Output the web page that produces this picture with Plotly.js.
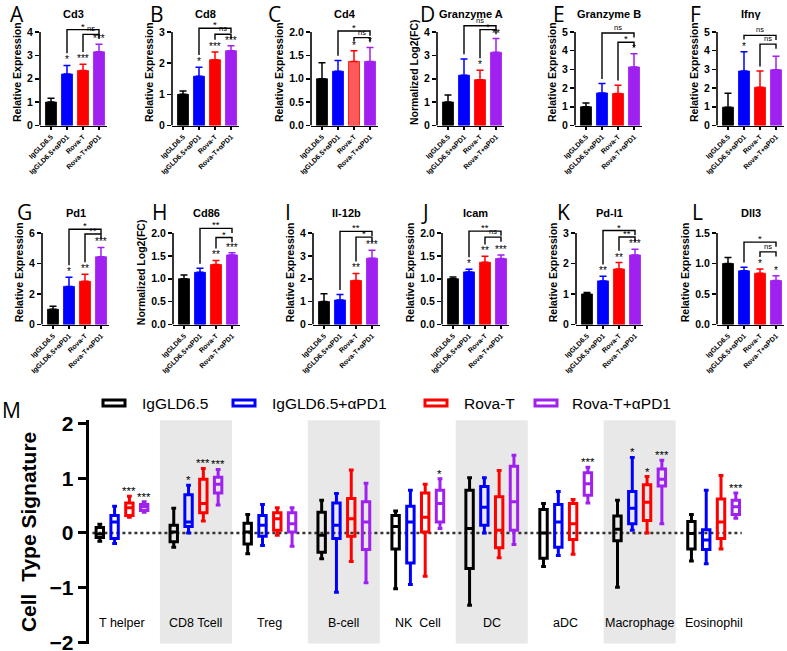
<!DOCTYPE html>
<html><head><meta charset="utf-8">
<script src="https://cdn.plot.ly/plotly-3.0.1.min.js"></script>
<style>body{margin:0;padding:0;background:#fff}#chart{width:787px;height:651px}</style>
</head><body><div id="chart"></div>
<script>
// ---------------- DATA ----------------
const groups = ['IgGLD6.5', 'IgGLD6.5+αPD1', 'Rova-T', 'Rova-T+αPD1'];
const panelLetters = ['A','B','C','D','E','F','G','H','I','J','K','L'];
const genes = ['Cd3','Cd8','Cd4','Granzyme A','Granzyme B','Ifnγ','Pd1','Cd86','Il-12b','Icam','Pd-l1','Dll3'];
const yTitles = ['Relative Expression','Relative Expression','Relative Expression','Normalized Log2(FC)',
  'Relative Expression','Relative Expression','Relative Expression','Normalized Log2(FC)',
  'Relative Expression','Relative Expression','Relative Expression','Relative Expression'];
const yMax  = [4, 3, 2, 4, 5, 5, 6, 2, 4, 2, 3, 1.5];
const yStep = [1, 1, 0.5, 1, 1, 1, 2, 0.5, 1, 0.5, 1, 0.5];
const means = [
  [1.00, 2.20, 2.35, 3.15],
  [1.00, 1.58, 2.11, 2.40],
  [1.00, 1.16, 1.37, 1.37],
  [1.00, 2.15, 1.96, 3.13],
  [1.00, 1.74, 1.71, 3.13],
  [0.98, 2.91, 2.04, 2.98],
  [1.00, 2.50, 2.83, 4.44],
  [1.00, 1.14, 1.31, 1.52],
  [1.00, 1.07, 1.92, 2.90],
  [1.00, 1.15, 1.36, 1.44],
  [1.00, 1.43, 1.82, 2.28],
  [1.00, 0.88, 0.84, 0.72]
];
const errs = [
  [0.17, 0.37, 0.27, 0.33],
  [0.11, 0.29, 0.25, 0.16],
  [0.34, 0.23, 0.23, 0.30],
  [0.30, 0.70, 0.40, 0.59],
  [0.20, 0.50, 0.44, 0.71],
  [0.74, 1.04, 0.87, 0.72],
  [0.20, 0.60, 0.47, 0.61],
  [0.08, 0.09, 0.09, 0.05],
  [0.34, 0.24, 0.31, 0.35],
  [0.04, 0.06, 0.13, 0.08],
  [0.05, 0.15, 0.21, 0.19],
  [0.10, 0.06, 0.07, 0.08]
];
const stars = [
  ['','*','***','***'], ['','*','***','***'], ['','','*','*'], ['','','*','**'],
  ['','','','*'], ['','*','',''], ['','*','**','***'], ['','','**','***'],
  ['','','**','***'], ['','*','**','***'], ['','**','**','***'], ['','','*','*']
];
// brackets: [blue vs purple, red vs purple]
const bracketLabels = [
  ['*','ns'], ['*','ns'], ['*','ns'], ['ns','*'], ['ns','*'], ['ns','ns'],
  ['*','**'], ['**','*'], ['**','*'], ['**','ns'], ['*','**'], ['*','ns']
];
const bracketLevels = [
  [4.10, 3.90], [3.12, 2.93], [2.02, 1.88], [4.27, 4.10], [4.95, 4.45], [4.82, 4.35],
  [6.25, 5.93], [2.10, 1.90], [4.07, 3.82], [2.04, 1.91], [3.08, 2.87], [1.35, 1.19]
];

// Cell type signature box plot (panel M)
const cellTypes = ['T helper','CD8 Tcell','Treg','B-cell','NK  Cell','DC','aDC','Macrophage','Eosinophil'];
const boxUpper  = [
  [0.16, 0.45, 0.34, 0.60, 0.40, 1.01, 0.54, 0.60, 0.34],
  [0.49, 0.87, 0.52, 0.72, 0.78, 1.01, 0.76, 1.38, 0.78],
  [0.67, 1.18, 0.46, 1.15, 0.89, 1.14, 0.61, 1.03, 1.05],
  [0.57, 1.16, 0.46, 0.91, 0.99, 1.42, 1.20, 1.33, 0.73]
];
const boxQ3 = [
  [0.10, 0.14, 0.18, 0.38, 0.32, 0.78, 0.43, 0.31, 0.21],
  [0.32, 0.70, 0.32, 0.55, 0.49, 0.85, 0.52, 0.76, 0.06],
  [0.55, 0.98, 0.37, 0.63, 0.73, 0.66, 0.54, 0.88, 0.62],
  [0.52, 1.02, 0.37, 0.57, 0.78, 1.22, 1.10, 1.17, 0.60]
];
const boxMedian = [
  [-0.02, 0.02, 0.02, -0.04, 0.12, 0.08, 0.00, 0.07, -0.01],
  [0.20, 0.20, 0.14, 0.14, 0.20, 0.47, 0.20, 0.45, -0.13],
  [0.46, 0.54, 0.26, 0.26, 0.29, 0.05, 0.17, 0.56, 0.20],
  [0.48, 0.89, 0.17, 0.20, 0.54, 0.57, 0.90, 0.98, 0.48]
];
const boxQ1 = [
  [-0.08, -0.16, -0.20, -0.35, -0.29, -0.65, -0.46, -0.14, -0.29],
  [-0.10, 0.12, -0.06, -0.10, -0.55, 0.14, -0.26, 0.17, -0.30],
  [0.32, 0.37, 0.05, -0.06, 0.02, -0.27, -0.12, 0.23, -0.10],
  [0.41, 0.73, 0.02, -0.30, 0.20, 0.05, 0.69, 0.86, 0.34]
];
const boxLower = [
  [-0.15, -0.26, -0.38, -0.47, -1.02, -1.32, -0.61, -0.99, -0.51],
  [-0.19, 0.00, -0.23, -1.08, -0.94, 0.00, -0.41, 0.05, -0.56],
  [0.29, 0.22, -0.04, -0.52, -0.79, -0.45, -0.39, 0.00, -0.29],
  [0.38, 0.51, -0.24, -0.91, 0.08, -0.21, 0.55, 0.17, 0.27]
];
const boxStars = [
  ['','','','','','','','',''],
  ['','*','','','','','','*',''],
  ['***','***','','','','','','*',''],
  ['***','***','','','*','','***','***','***']
];

// ---------------- STYLE / LAYOUT CONSTANTS ----------------
const groupColors = ['#000000', '#0000ff', '#ff0000', '#a020f0'];
const W = 787, H = 651;
const FONT = 'Liberation Sans, Arial, sans-serif';
const rowZeroPx = [125.5, 324.5];
const rowTopPx = [32, 233];
const rowTitlePx = [14, 213];
const rowLetterPx = [14, 212];
const axisLeftPx = [40, 172, 311, 437, 575, 717, 42, 173, 313, 442, 576, 717];
const letterLeftPx = [8, 148, 266, 418, 551, 688, 15, 150, 283, 419, 555, 690];
const barPitchPx = 16, firstBarPx = 11, axisLenPx = 67, barWidthFrac = 0.69;
const headroom = 1.14;

const layout = {
  width: W, height: H, margin: {l: 0, r: 0, t: 0, b: 0},
  paper_bgcolor: '#ffffff', plot_bgcolor: 'rgba(0,0,0,0)',
  showlegend: false, barmode: 'overlay', boxmode: 'group', boxgap: 0.2, boxgroupgap: 0.5,
  font: {family: FONT, color: '#000'},
  shapes: [], annotations: []
};
const traces = [];

function suffix(n) { return n === 1 ? '' : String(n); }

genes.forEach((gene, p) => {
  const n = p + 1, s = suffix(n);
  const row = p < 6 ? 0 : 1;
  const left = axisLeftPx[p];
  const zero = rowZeroPx[row], top = rowTopPx[row];
  const ymax = yMax[p];
  const topPx = zero - headroom * (zero - top);
  const tickvals = [];
  for (let v = 0; v <= ymax + 1e-9; v += yStep[p]) tickvals.push(+v.toFixed(2));

  layout['xaxis' + s] = {
    domain: [left / W, (left + axisLenPx) / W],
    range: [-firstBarPx / barPitchPx, (axisLenPx - firstBarPx) / barPitchPx],
    anchor: 'y' + s, showline: true, linecolor: '#000', linewidth: 1.6,
    ticks: 'outside', ticklen: 3, tickwidth: 1.2, tickcolor: '#000',
    tickmode: 'array', tickvals: [0, 1, 2, 3], ticktext: groups, tickangle: -45,
    tickfont: {size: 7, family: FONT, weight: 'bold'},
    showgrid: false, zeroline: false, fixedrange: true
  };
  layout['yaxis' + s] = {
    domain: [1 - zero / H, 1 - topPx / H],
    range: [0, headroom * ymax], anchor: 'x' + s,
    showline: false, ticks: 'outside', ticklen: 4, tickwidth: 1.5, tickcolor: '#000',
    tickmode: 'array', tickvals: tickvals, tickformat: yStep[p] < 1 ? '.1f' : 'd',
    tickfont: {size: 10.5, family: FONT, weight: 'bold'},
    showgrid: false, zeroline: false, fixedrange: true,
    title: {text: yTitles[p], font: {size: 10.5, family: FONT, weight: 'bold'}, standoff: 3}
  };
  // y axis line only up to ymax
  layout.shapes.push({type: 'line', xref: 'x' + s + ' domain', yref: 'y' + s,
    x0: 0, x1: 0, y0: 0, y1: ymax, line: {color: '#000', width: 1.6}});

  groups.forEach((g, i) => {
    let fill = groupColors[i];
    if (p === 2 && i === 2) fill = '#ff5a5a';
    traces.push({
      type: 'bar', x: [i], y: [means[p][i]], width: barWidthFrac,
      xaxis: 'x' + s, yaxis: 'y' + s, name: g, hoverinfo: 'skip',
      marker: {color: fill, line: {color: groupColors[i], width: 0.8}},
      error_y: {type: 'data', symmetric: false, array: [errs[p][i]], arrayminus: [0],
        color: groupColors[i], thickness: 1.5, width: 3.5}
    });
    if (stars[p][i]) {
      layout.annotations.push({xref: 'x' + s, yref: 'y' + s, x: i, y: means[p][i] + errs[p][i],
        text: stars[p][i], showarrow: false, yanchor: 'bottom', yshift: -2,
        font: {size: 10, family: FONT, color: '#000'}});
    }
  });

  // significance brackets
  [[1, 0], [2, 1]].forEach(([fromIdx, k]) => {
    const h = bracketLevels[p][k];
    const topFrom = means[p][fromIdx] + errs[p][fromIdx];
    let bottom = topFrom + (stars[p][fromIdx] ? 0.13 : 0.05) * ymax;
    bottom = Math.min(bottom, h - 0.04 * ymax);
    const drop = h - 0.05 * ymax;
    layout.shapes.push({type: 'path', xref: 'x' + s, yref: 'y' + s,
      path: `M ${fromIdx},${bottom} L ${fromIdx},${h} L 3,${h} L 3,${drop}`,
      line: {color: '#000', width: 1.4}});
    const lbl = bracketLabels[p][k];
    layout.annotations.push({xref: 'x' + s, yref: 'y' + s, x: (fromIdx + 3) / 2, y: h,
      text: lbl, showarrow: false, yanchor: 'bottom', yshift: lbl === 'ns' ? -1 : -4,
      font: {size: lbl === 'ns' ? 7.5 : 9.5, family: FONT, color: '#000'}});
  });

  // subplot title
  layout.annotations.push({xref: 'paper', yref: 'paper',
    x: (left + axisLenPx / 2) / W, y: 1 - rowTitlePx[row] / H,
    text: gene, showarrow: false, xanchor: 'center', yanchor: 'middle',
    font: {size: 11, family: FONT, weight: 'bold', color: '#000'}});
  // panel letter
  layout.annotations.push({xref: 'paper', yref: 'paper',
    x: letterLeftPx[p] / W, y: 1 - rowLetterPx[row] / H,
    text: panelLetters[p], showarrow: false, xanchor: 'left', yanchor: 'middle',
    font: {size: 21, family: 'Open Sans, sans-serif', color: '#000'}});
});

// ---------------- PANEL M: box plot ----------------
const bx = 'x13', by = 'y13';
const boxLeftPx = 88.7, boxRightPx = 758, boxZeroPx = 533, boxUnitPx = 54.75;
const bRange = [-2.02, 2.06];
layout.xaxis13 = {domain: [boxLeftPx / W, boxRightPx / W], range: [-0.45, 8.6], anchor: by,
  type: 'category', categoryarray: cellTypes, showline: false, showticklabels: false, ticks: '',
  showgrid: false, zeroline: false, fixedrange: true};
layout.yaxis13 = {
  domain: [1 - (boxZeroPx - bRange[0] * boxUnitPx) / H, 1 - (boxZeroPx - bRange[1] * boxUnitPx) / H],
  range: bRange, anchor: bx, showline: true, linecolor: '#000', linewidth: 3,
  ticks: 'outside', ticklen: 8, tickwidth: 3, tickcolor: '#000',
  tickmode: 'array', tickvals: [-2, -1, 0, 1, 2], ticklabeloverflow: 'allow',
  tickfont: {size: 21, family: FONT, weight: 'bold'},
  showgrid: false, zeroline: false, fixedrange: true,
  title: {text: 'Cell  Type Signature', font: {size: 21, family: FONT, weight: 'bold'}, standoff: 8}
};
// alternating grey bands
cellTypes.forEach((c, i) => {
  if (i % 2 === 1) {
    layout.shapes.push({type: 'rect', xref: bx, yref: 'y13 domain', x0: i - 0.487, x1: i + 0.487,
      y0: 0, y1: 1, fillcolor: '#e8e8e8', line: {width: 0}, layer: 'below'});
  }
});
// dotted zero line
layout.shapes.push({type: 'line', xref: bx, yref: by, x0: -0.4, x1: 8.38, y0: 0, y1: 0,
  line: {color: '#333', width: 2.5, dash: 'dot'}, layer: 'below'});

groups.forEach((g, gi) => {
  traces.push({
    type: 'box', name: g, x: cellTypes, xaxis: bx, yaxis: by,
    q1: boxQ1[gi], median: boxMedian[gi], q3: boxQ3[gi],
    lowerfence: boxLower[gi], upperfence: boxUpper[gi],
    boxpoints: false, whiskerwidth: 0.65, hoverinfo: 'skip',
    line: {color: groupColors[gi], width: 3}, fillcolor: 'rgba(0,0,0,0)'
  });
  cellTypes.forEach((c, ci) => {
    if (boxStars[gi][ci]) {
      layout.annotations.push({xref: bx, yref: by, x: ci + (gi - 1.5) * 0.2, y: boxUpper[gi][ci],
        text: boxStars[gi][ci], showarrow: false, yanchor: 'bottom', yshift: -3,
        font: {size: 11.5, family: FONT, color: '#000'}});
    }
  });
});
// category labels inside plot
cellTypes.forEach((c, ci) => {
  layout.annotations.push({xref: bx, yref: by, x: ci, y: -1.64, text: c, showarrow: false,
    xanchor: 'center', yanchor: 'middle', font: {size: 12.5, family: FONT, color: '#000'}});
});
// custom legend
const legendSymPx = [103, 233, 425, 535], legendTxtPx = [140, 270, 462, 570], legendYPx = 403;
groups.forEach((g, gi) => {
  layout.shapes.push({type: 'rect', xref: 'paper', yref: 'paper',
    x0: legendSymPx[gi] / W, x1: (legendSymPx[gi] + 22) / W,
    y0: 1 - (legendYPx + 3) / H, y1: 1 - (legendYPx - 3) / H,
    line: {color: groupColors[gi], width: 3}, fillcolor: 'rgba(0,0,0,0)'});
  layout.annotations.push({xref: 'paper', yref: 'paper', x: legendTxtPx[gi] / W, y: 1 - legendYPx / H,
    text: g, showarrow: false, xanchor: 'left', yanchor: 'middle',
    font: {size: 15.5, family: FONT, color: '#000'}});
});
layout.annotations.push({xref: 'paper', yref: 'paper', x: 0, y: 1 - 410 / H, text: 'M',
  showarrow: false, xanchor: 'left', yanchor: 'middle',
  font: {size: 21, family: 'Open Sans, sans-serif', color: '#000'}});

Plotly.newPlot('chart', traces, layout, {staticPlot: true, displayModeBar: false});
</script>
</body></html>
